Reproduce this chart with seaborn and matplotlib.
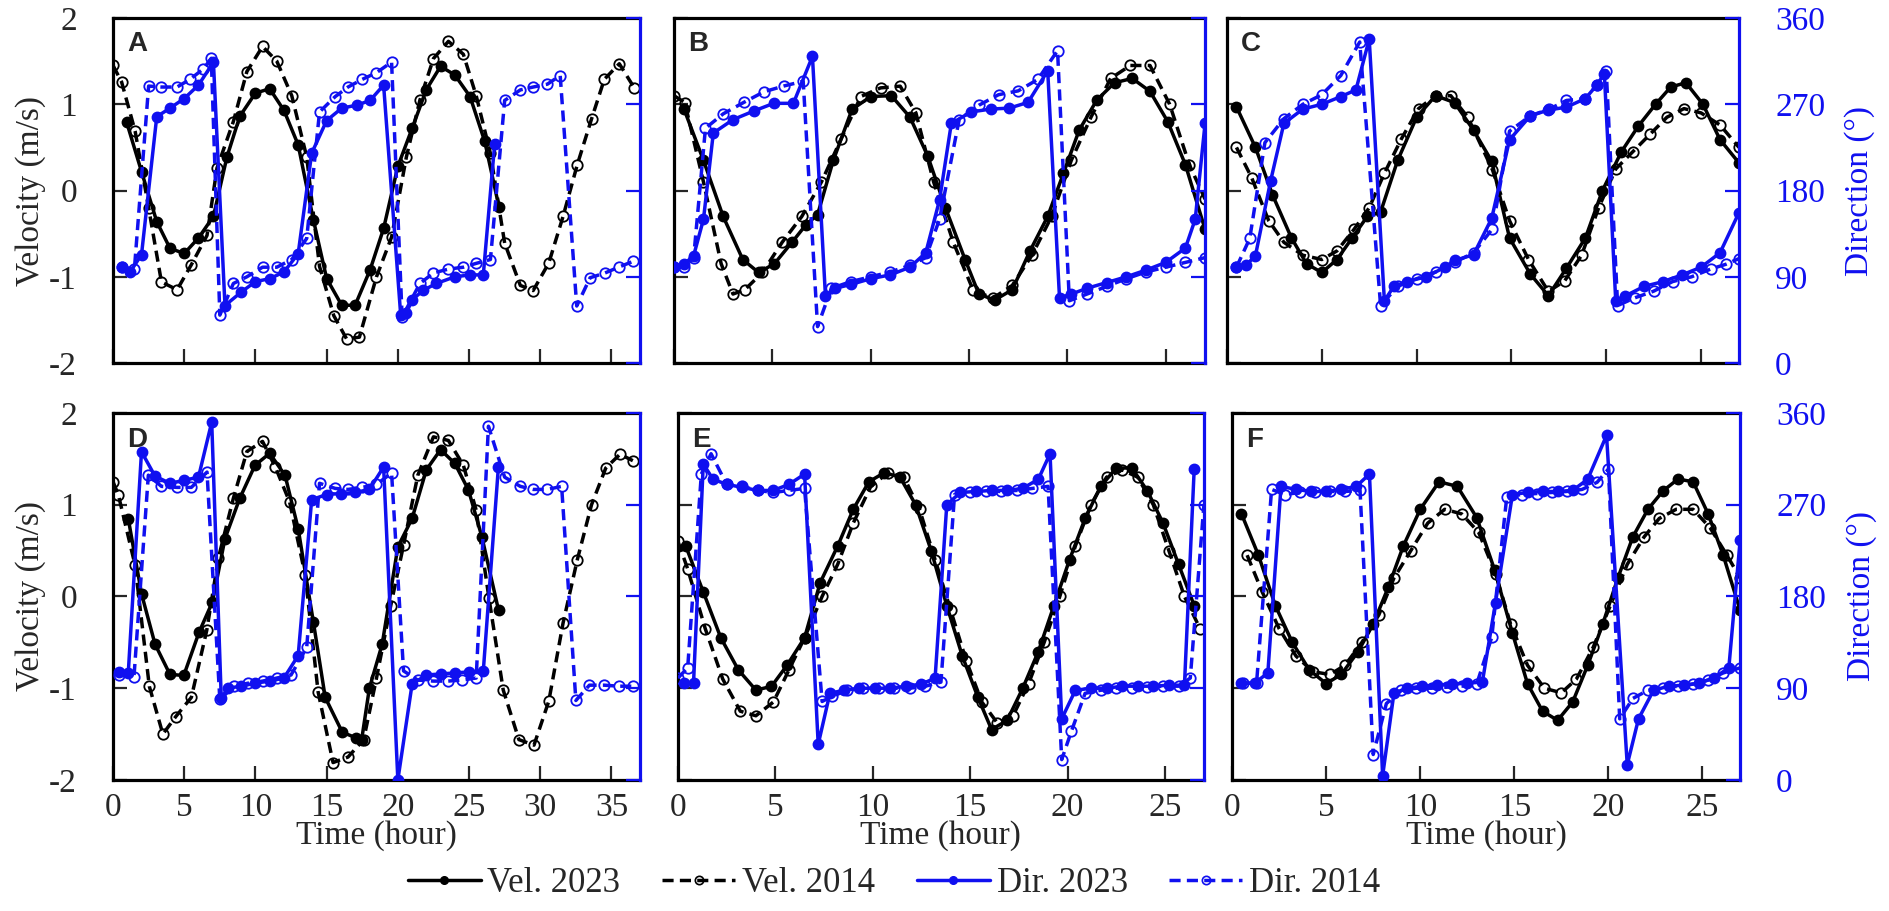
import matplotlib
matplotlib.use("Agg")
import matplotlib.pyplot as plt
import pandas as pd
import seaborn as sns
from matplotlib.lines import Line2D

# ---------------- Panel A ----------------
a_vel23_t = [0.96, 2.0, 3.07, 4.0, 5.0, 6.0, 7.05, 8.0, 8.9, 10.0, 11.0, 12.0, 13.0, 14.07, 15.0, 16.06, 17.0,
             18.05, 19.0, 20.0, 21.0, 22.0, 23.0, 24.0, 25.07, 26.1, 27.1]
a_vel23 = [0.79, 0.22, -0.36, -0.67, -0.73, -0.55, -0.3, 0.39, 0.86, 1.13, 1.18, 0.93, 0.53, -0.34, -1.02, -1.33,
           -1.33, -0.92, -0.44, 0.28, 0.72, 1.17, 1.44, 1.34, 1.09, 0.57, -0.19]
a_vel14_t = [0.0, 0.6, 1.55, 2.5, 3.4, 4.5, 5.5, 6.6, 7.3, 8.45, 9.4, 10.5, 11.5, 12.55, 13.6, 14.5, 15.5, 16.4,
             17.3, 18.5, 19.56, 20.6, 21.55, 22.5, 23.55, 24.6, 25.5, 26.5, 27.5, 28.6, 29.5, 30.6, 31.6, 32.6,
             33.6, 34.5, 35.55, 36.6]
a_vel14 = [1.45, 1.26, 0.69, -0.2, -1.06, -1.15, -0.86, -0.52, 0.26, 0.8, 1.38, 1.67, 1.5, 1.1, 0.39, -0.88, -1.45,
           -1.72, -1.7, -1.0, -0.54, 0.39, 1.05, 1.53, 1.73, 1.58, 1.1, 0.43, -0.61, -1.1, -1.16, -0.84, -0.3, 0.3,
           0.83, 1.29, 1.47, 1.19]
a_dir23_t = [0.6, 1.2, 2.0, 3.07, 4.0, 5.0, 6.0, 7.05, 7.86, 9.0, 10.0, 11.0, 12.0, 13.0, 13.95, 15.0, 16.06, 17.1,
             18.05, 19.0, 20.2, 20.6, 21.0, 21.8, 22.7, 24.0, 25.1, 26.0, 26.8]
a_dir23 = [100, 95, 113, 257, 266, 276, 290, 314, 60, 74, 85, 88, 95, 114, 219, 253, 266, 269, 274, 290, 50, 52, 66,
           76, 83, 90, 92, 92, 229]
a_dir14_t = [0.6, 1.5, 2.5, 3.4, 4.5, 5.4, 6.35, 6.9, 7.5, 8.45, 9.4, 10.5, 11.5, 12.55, 13.6, 14.5, 15.6, 16.5,
             17.5, 18.5, 19.56, 20.3, 21.55, 22.5, 23.55, 24.6, 25.5, 26.5, 27.5, 28.6, 29.5, 30.5, 31.4, 32.56,
             33.5, 34.55, 35.5, 36.5]
a_dir14 = [100, 98, 289, 288, 288, 296, 307, 318, 50, 83, 90, 100, 100, 108, 130, 262, 278, 288, 296, 303, 314, 48,
           83, 94, 98, 100, 104, 108, 274, 285, 288, 291, 300, 59.5, 89, 94, 100, 106]

# ---------------- Panel B ----------------
b_vel23_t = [0.5, 1.5, 2.5, 3.5, 4.3, 5.1, 6.0, 6.7, 7.3, 8.1, 9.05, 10.0, 11.05, 12.0, 12.9, 13.8, 14.8, 15.5,
             16.3, 17.2, 18.1, 19.0, 19.8, 20.6, 21.5, 22.4, 23.3, 24.2, 25.1, 26.0, 27.0]
b_vel23 = [0.95, 0.35, -0.3, -0.8, -0.95, -0.85, -0.6, -0.4, -0.28, 0.35, 0.94, 1.09, 1.1, 0.85, 0.4, -0.2, -0.8,
           -1.2, -1.27, -1.15, -0.7, -0.3, 0.2, 0.7, 1.05, 1.25, 1.3, 1.15, 0.8, 0.3, -0.45]
b_vel14_t = [0.0, 0.55, 1.5, 2.4, 3.0, 3.6, 4.5, 5.5, 6.5, 7.5, 8.5, 9.5, 10.5, 11.5, 12.3, 13.2, 14.2, 15.2, 16.2,
             17.2, 18.2, 19.2, 20.2, 21.2, 22.2, 23.2, 24.2, 25.2, 26.2, 27.0]
b_vel14 = [1.1, 1.02, 0.1, -0.85, -1.2, -1.15, -0.95, -0.6, -0.3, 0.1, 0.6, 1.09, 1.19, 1.21, 0.9, 0.1, -0.6,
           -1.15, -1.25, -1.1, -0.75, -0.3, 0.35, 0.85, 1.3, 1.45, 1.45, 1.0, 0.3, -0.1]
b_dir23_t = [0.0, 0.5, 1.0, 1.5, 2.0, 3.0, 4.06, 5.07, 6.07, 7.04, 7.7, 8.2, 9.0, 10.0, 11.0, 12.0, 12.8, 13.5,
             14.1, 15.1, 16.1, 17.05, 18.0, 19.0, 19.6, 20.2, 21.0, 22.0, 23.0, 24.0, 25.0, 26.0, 26.5, 27.0]
b_dir23 = [100, 103, 112, 150, 240, 254, 263, 271, 271, 320, 70, 78, 82, 88, 92, 100, 115, 170, 250, 262, 265, 266,
           272, 305, 68, 72, 78, 84, 90, 97, 105, 120, 150, 250]
b_dir14_t = [0.0, 0.5, 1.0, 1.6, 2.5, 3.55, 4.57, 5.57, 6.57, 7.3, 8.0, 9.0, 10.0, 11.0, 12.0, 12.8, 13.5, 14.5,
             15.5, 16.5, 17.5, 18.5, 19.5, 20.1, 21.0, 22.0, 23.0, 24.0, 25.0, 26.0, 27.0]
b_dir14 = [100, 100, 110, 245, 260, 272, 283, 289, 294, 38, 78, 85, 90, 95, 102, 110, 150, 254, 269, 280, 284, 296,
           326, 65, 72, 80, 88, 95, 100, 105, 110]

# ---------------- Panel C ----------------
c_vel23_t = [0.5, 1.5, 2.4, 3.4, 4.2, 5.0, 5.8, 6.6, 7.4, 8.1, 9.0, 10.0, 11.0, 12.0, 13.0, 13.96, 14.9, 16.0,
             16.95, 17.9, 18.9, 19.8, 20.8, 21.7, 22.6, 23.4, 24.2, 25.1, 26.0, 27.0]
c_vel23 = [0.97, 0.5, -0.05, -0.55, -0.85, -0.95, -0.8, -0.55, -0.3, -0.25, 0.35, 0.85, 1.1, 1.02, 0.7, 0.34,
           -0.55, -0.97, -1.22, -0.9, -0.55, 0.0, 0.45, 0.75, 1.0, 1.2, 1.25, 1.0, 0.59, 0.32]
c_vel14_t = [0.5, 1.3, 2.2, 3.0, 4.0, 5.0, 5.8, 6.7, 7.5, 8.3, 9.2, 10.1, 11.0, 11.8, 12.7, 14.0, 14.9, 15.9,
             16.95, 17.8, 18.7, 19.6, 20.5, 21.4, 22.3, 23.2, 24.1, 25.0, 26.0, 27.0]
c_vel14 = [0.5, 0.15, -0.35, -0.6, -0.75, -0.8, -0.7, -0.45, -0.2, 0.2, 0.6, 0.95, 1.1, 1.1, 0.85, 0.24, -0.35,
           -0.8, -1.17, -1.05, -0.75, -0.2, 0.25, 0.45, 0.65, 0.85, 0.95, 0.9, 0.76, 0.5]
c_dir23_t = [0.5, 1.0, 1.5, 2.3, 3.0, 4.0, 5.0, 6.0, 6.8, 7.5, 8.3, 8.8, 9.5, 10.5, 11.5, 12.0, 13.0, 13.96, 14.9,
             16.0, 16.95, 17.9, 18.9, 19.5, 19.9, 20.5, 21.0, 22.0, 23.0, 24.0, 25.0, 26.0, 27.0]
c_dir23 = [100, 102, 112, 190, 250, 265, 270, 278, 285, 338, 65, 80, 85, 90, 100, 107, 113, 151, 233, 258, 264,
           267, 276, 290, 302, 65, 70, 80, 85, 92, 100, 115, 157]
c_dir14_t = [0.5, 1.2, 2.0, 3.0, 4.0, 5.0, 6.0, 7.0, 8.1, 9.0, 10.0, 11.0, 12.0, 13.0, 14.0, 14.9, 16.0, 17.0,
             17.9, 18.9, 19.5, 20.0, 20.6, 21.5, 22.5, 23.5, 24.5, 25.5, 26.3, 27.0]
c_dir14 = [100, 130, 230, 255, 270, 280, 300, 335, 60, 80, 88, 95, 105, 115, 140, 242, 258, 265, 274, 276, 290,
           305, 60, 68, 75, 85, 90, 98, 103, 109]

# ---------------- Panel D ----------------
d_vel23_t = [1.08, 2.0, 2.95, 4.0, 4.97, 6.04, 6.98, 7.86, 8.9, 9.97, 11.0, 12.08, 13.0, 14.07, 14.9, 16.1, 17.06,
             17.46, 18.0, 18.9, 20.0, 21.0, 22.0, 23.0, 24.0, 24.96, 25.9, 27.07]
d_vel23 = [0.84, 0.03, -0.52, -0.85, -0.86, -0.39, -0.06, 0.63, 1.07, 1.43, 1.56, 1.32, 0.74, -0.28, -1.1, -1.48,
           -1.54, -1.56, -1.0, -0.52, 0.54, 0.85, 1.38, 1.6, 1.45, 1.16, 0.65, -0.15]
d_vel14_t = [0.0, 0.37, 1.55, 2.55, 3.5, 4.4, 5.5, 6.58, 7.4, 8.45, 9.4, 10.5, 11.4, 12.4, 13.5, 14.4, 15.45, 16.5,
             17.6, 18.5, 19.5, 20.4, 21.4, 22.5, 23.55, 24.6, 25.5, 26.4, 27.4, 28.5, 29.56, 30.6, 31.6, 32.6,
             33.6, 34.6, 35.6, 36.5]
d_vel14 = [1.25, 1.11, 0.34, -0.98, -1.5, -1.31, -1.1, -0.37, 0.42, 1.07, 1.58, 1.69, 1.41, 1.03, 0.23, -1.04,
           -1.81, -1.75, -1.56, -0.89, -0.1, 0.56, 1.32, 1.74, 1.7, 1.43, 0.94, -0.02, -1.02, -1.56, -1.62, -1.14,
           -0.29, 0.4, 1.0, 1.4, 1.55, 1.48]
d_dir23_t = [0.4, 1.07, 2.0, 2.95, 4.0, 5.0, 6.0, 6.93, 7.6, 8.05, 9.0, 10.0, 11.0, 12.0, 13.0, 13.95, 15.0, 16.0,
             17.0, 18.0, 19.0, 20.0, 21.0, 22.0, 23.0, 24.0, 25.0, 26.0, 27.06]
d_dir23 = [106, 105, 322, 298, 291, 294, 297, 351, 80, 90, 92, 95, 97, 100, 122, 275, 280, 281, 282, 285, 307, 0,
           94, 103, 104, 105, 106, 107, 307]
d_dir14_t = [0.4, 1.47, 2.48, 3.4, 4.5, 5.5, 6.6, 7.5, 8.5, 9.5, 10.5, 11.5, 12.5, 13.6, 14.5, 15.6, 16.5, 17.5,
             18.5, 19.56, 20.4, 21.4, 22.5, 23.5, 24.5, 25.5, 26.36, 27.5, 28.6, 29.5, 30.5, 31.5, 32.5, 33.45,
             34.5, 35.5, 36.5]
d_dir14 = [103, 101, 299, 288, 287, 287, 302, 79, 92, 95, 97, 100, 103, 130, 291, 286, 285, 287, 290, 301, 107, 98,
           97, 97, 98, 100, 347, 297, 288, 285, 285, 288, 78, 93, 93, 92, 92]

# ---------------- Panel E ----------------
e_vel23_t = [0.4, 1.3, 2.2, 3.1, 4.0, 4.8, 5.6, 6.5, 7.3, 8.2, 9.0, 9.8, 10.6, 11.4, 12.2, 13.0, 13.8, 14.6, 15.4,
             16.1, 16.9, 17.7, 18.5, 19.3, 20.1, 20.9, 21.7, 22.5, 23.3, 24.1, 24.9, 25.7, 26.5]
e_vel23 = [0.55, 0.05, -0.45, -0.8, -1.02, -0.98, -0.75, -0.45, 0.15, 0.55, 0.95, 1.25, 1.35, 1.3, 1.0, 0.5, -0.1,
           -0.65, -1.1, -1.45, -1.35, -1.0, -0.6, -0.1, 0.4, 0.85, 1.2, 1.4, 1.4, 1.15, 0.8, 0.35, -0.1]
e_vel14_t = [0.0, 0.5, 1.4, 2.3, 3.2, 4.0, 4.9, 5.7, 6.5, 7.4, 8.2, 9.0, 9.9, 10.8, 11.6, 12.4, 13.2, 14.0, 14.8,
             15.6, 16.4, 17.2, 18.0, 18.8, 19.6, 20.4, 21.2, 22.0, 22.8, 23.6, 24.4, 25.2, 26.0, 26.8]
e_vel14 = [0.6, 0.3, -0.35, -0.9, -1.25, -1.3, -1.15, -0.8, -0.45, 0.0, 0.35, 0.8, 1.2, 1.35, 1.3, 0.95, 0.4,
           -0.15, -0.7, -1.15, -1.38, -1.3, -0.95, -0.5, 0.0, 0.55, 1.0, 1.3, 1.38, 1.3, 1.0, 0.5, 0.0, -0.35]
e_dir23_t = [0.3, 0.8, 1.3, 1.8, 2.5, 3.3, 4.1, 4.9, 5.7, 6.5, 7.2, 7.8, 8.5, 9.3, 10.1, 10.9, 11.7, 12.5, 13.2,
             13.8, 14.5, 15.3, 16.1, 16.9, 17.7, 18.5, 19.1, 19.7, 20.4, 21.2, 22.0, 22.8, 23.6, 24.4, 25.2, 26.0,
             26.5]
e_dir23 = [95, 95, 310, 295, 290, 287, 284, 284, 290, 300, 35, 85, 88, 90, 90, 90, 92, 94, 100, 270, 282, 283, 284,
           284, 286, 295, 320, 60, 88, 90, 90, 92, 92, 92, 93, 93, 305]
e_dir14_t = [0.0, 0.5, 1.2, 1.7, 2.5, 3.3, 4.1, 4.9, 5.7, 6.5, 7.4, 7.9, 8.7, 9.5, 10.3, 11.1, 11.9, 12.7, 13.5,
             14.2, 15.0, 15.8, 16.6, 17.4, 18.2, 19.0, 19.7, 20.2, 20.9, 21.7, 22.5, 23.3, 24.1, 24.9, 25.7, 26.3,
             27.0]
e_dir14 = [100, 110, 300, 320, 290, 288, 284, 282, 284, 286, 77, 82, 88, 90, 90, 90, 90, 92, 96, 280, 282, 283,
           283, 284, 286, 288, 20, 48, 85, 88, 90, 90, 91, 92, 92, 100, 270]

# ---------------- Panel F ----------------
f_vel23_t = [0.5, 1.4, 2.3, 3.2, 4.1, 5.0, 5.8, 6.7, 7.5, 8.3, 9.1, 10.0, 11.0, 11.97, 13.0, 13.95, 14.9, 15.7,
             16.5, 17.3, 18.1, 18.9, 19.7, 20.5, 21.3, 22.1, 22.9, 23.7, 24.5, 25.3, 26.1, 27.0]
f_vel23 = [0.9, 0.45, -0.1, -0.5, -0.8, -0.95, -0.85, -0.6, -0.3, 0.1, 0.55, 0.95, 1.25, 1.2, 0.86, 0.29, -0.4,
           -0.95, -1.25, -1.35, -1.15, -0.75, -0.3, 0.2, 0.65, 0.95, 1.15, 1.28, 1.25, 0.9, 0.45, -0.15]
f_vel14_t = [0.8, 1.6, 2.5, 3.4, 4.3, 5.2, 6.0, 6.9, 7.8, 8.6, 9.5, 10.4, 11.3, 12.2, 13.1, 14.0, 14.8, 15.7, 16.6,
             17.5, 18.3, 19.2, 20.1, 21.0, 21.9, 22.7, 23.6, 24.5, 25.4, 26.3, 27.0]
f_vel14 = [0.45, 0.05, -0.35, -0.65, -0.82, -0.85, -0.75, -0.5, -0.2, 0.2, 0.5, 0.8, 0.95, 0.9, 0.7, 0.25, -0.3,
           -0.75, -1.0, -1.05, -0.9, -0.55, -0.1, 0.35, 0.65, 0.85, 0.95, 0.95, 0.75, 0.45, 0.2]
f_dir23_t = [0.5, 1.2, 1.9, 2.6, 3.4, 4.2, 5.0, 5.8, 6.6, 7.3, 8.0, 8.6, 9.3, 10.1, 10.9, 11.7, 12.5, 13.3, 14.0,
             14.9, 15.7, 16.5, 17.3, 18.1, 18.9, 19.9, 21.0, 21.6, 22.4, 23.2, 24.0, 24.8, 25.6, 26.4, 27.0]
f_dir23 = [95, 95, 105, 288, 285, 283, 283, 285, 288, 300, 4, 85, 90, 92, 93, 94, 95, 96, 174, 280, 282, 283, 283,
           284, 295, 338, 15, 60, 88, 92, 93, 95, 100, 110, 235]
f_dir14_t = [0.6, 1.3, 2.1, 2.8, 3.6, 4.4, 5.2, 6.0, 6.8, 7.5, 8.2, 9.0, 9.8, 10.6, 11.4, 12.2, 13.0, 13.8, 14.6,
             15.4, 16.2, 17.0, 17.8, 18.6, 19.4, 20.0, 20.6, 21.3, 22.1, 22.9, 23.7, 24.5, 25.3, 26.1, 27.0]
f_dir14 = [95, 95, 285, 280, 282, 282, 283, 283, 284, 25, 75, 88, 90, 90, 91, 92, 94, 140, 278, 280, 281, 282, 283,
           285, 292, 305, 60, 80, 88, 90, 92, 94, 98, 105, 110]

labels = ["Vel. 2023", "Vel. 2014", "Dir. 2023", "Dir. 2014"]
BLUE = "#1010f0"

panels = [
    ("A", [0.0598, 0.6015, 0.2788, 0.3787], 37,
     (a_vel23_t, a_vel23), (a_vel14_t, a_vel14), (a_dir23_t, a_dir23), (a_dir14_t, a_dir14)),
    ("B", [0.3566, 0.6015, 0.2810, 0.3787], 27,
     (b_vel23_t, b_vel23), (b_vel14_t, b_vel14), (b_dir23_t, b_dir23), (b_dir14_t, b_dir14)),
    ("C", [0.6492, 0.6015, 0.2709, 0.3787], 27,
     (c_vel23_t, c_vel23), (c_vel14_t, c_vel14), (c_dir23_t, c_dir23), (c_dir14_t, c_dir14)),
    ("D", [0.0598, 0.1438, 0.2788, 0.4029], 37,
     (d_vel23_t, d_vel23), (d_vel14_t, d_vel14), (d_dir23_t, d_dir23), (d_dir14_t, d_dir14)),
    ("E", [0.3587, 0.1438, 0.2783, 0.4029], 27,
     (e_vel23_t, e_vel23), (e_vel14_t, e_vel14), (e_dir23_t, e_dir23), (e_dir14_t, e_dir14)),
    ("F", [0.6519, 0.1438, 0.2688, 0.4029], 27,
     (f_vel23_t, f_vel23), (f_vel14_t, f_vel14), (f_dir23_t, f_dir23), (f_dir14_t, f_dir14)),
]

sns.set_style("ticks")
plt.rcParams["font.family"] = ["Liberation Serif", "DejaVu Serif"]
plt.rcParams["axes.unicode_minus"] = False

DASH = (0, (3.2, 1.8))


def draw(ax, series, color, dashed):
    t, y = series
    df = pd.DataFrame({"t": t, "y": y})
    sns.lineplot(data=df, x="t", y="y", ax=ax, color=color, estimator=None, sort=False,
                 linestyle=DASH if dashed else "-", linewidth=2.5, marker="o",
                 markersize=7.5 if dashed else 7.2, markerfacecolor="none" if dashed else color,
                 markeredgecolor=color, markeredgewidth=1.3, legend=False)


fig = plt.figure(figsize=(18.9, 9.11), dpi=100)

for i, (letter, pos, xmax, v23, v14, d23, d14) in enumerate(panels):
    ax = fig.add_axes(pos)
    ax2 = ax.twinx()

    draw(ax, v23, "black", False)
    draw(ax, v14, "black", True)
    draw(ax2, d23, BLUE, False)
    draw(ax2, d14, BLUE, True)

    ax.set_xlim(0, xmax)
    ax.set_ylim(-2, 2)
    ax2.set_ylim(0, 360)
    ax.set_xticks(range(0, xmax + 1, 5))
    ax.set_yticks([-2, -1, 0, 1, 2])
    ax2.set_yticks([0, 90, 180, 270, 360])
    ax.set_xlabel("")
    ax.set_ylabel("")
    ax2.set_ylabel("")

    for s in ["left", "top", "bottom"]:
        ax.spines[s].set_linewidth(2.3)
        ax.spines[s].set_color("black")
        ax2.spines[s].set_visible(False)
    ax.spines["right"].set_visible(False)
    ax2.spines["right"].set_color(BLUE)
    ax2.spines["right"].set_linewidth(2.3)

    top_row = i < 3
    ax.tick_params(axis="x", direction="in", length=10, width=1.6, labelsize=24, pad=9,
                   labelbottom=not top_row, top=False)
    ax.tick_params(axis="y", direction="in", length=10, width=1.6, labelsize=24, pad=26,
                   labelleft=(letter in "AD"), right=False)
    ax2.tick_params(axis="y", direction="in", length=10, width=1.6, labelsize=24, pad=26,
                    colors=BLUE, labelright=(letter in "CF"))

    if letter in "AD":
        ax.set_ylabel("Velocity (m/s)", fontsize=24, labelpad=2)
    if letter in "CF":
        ax2.set_ylabel("Direction (°)", fontsize=24, color=BLUE, labelpad=14)
    if not top_row:
        ax.set_xlabel("Time (hour)", fontsize=24, labelpad=-2)

    ax.text(0.027, 0.925, letter, transform=ax.transAxes, fontsize=20, fontweight="bold",
            family="Liberation Sans", va="center", ha="left")

handles = [
    Line2D([], [], color="black", lw=2.5, marker="o", ms=5.5),
    Line2D([], [], color="black", lw=2.5, ls=DASH, marker="o", ms=6, mfc="none", mew=1.2),
    Line2D([], [], color=BLUE, lw=2.5, marker="o", ms=5.5),
    Line2D([], [], color=BLUE, lw=2.5, ls=DASH, marker="o", ms=6, mfc="none", mew=1.2),
]
fig.legend(handles, labels, loc="center", bbox_to_anchor=(0.473, 0.03), ncol=4, frameon=False,
           fontsize=25, handlelength=2.1, handletextpad=0.2, columnspacing=1.2)

fig.savefig("out.png", dpi=100)
